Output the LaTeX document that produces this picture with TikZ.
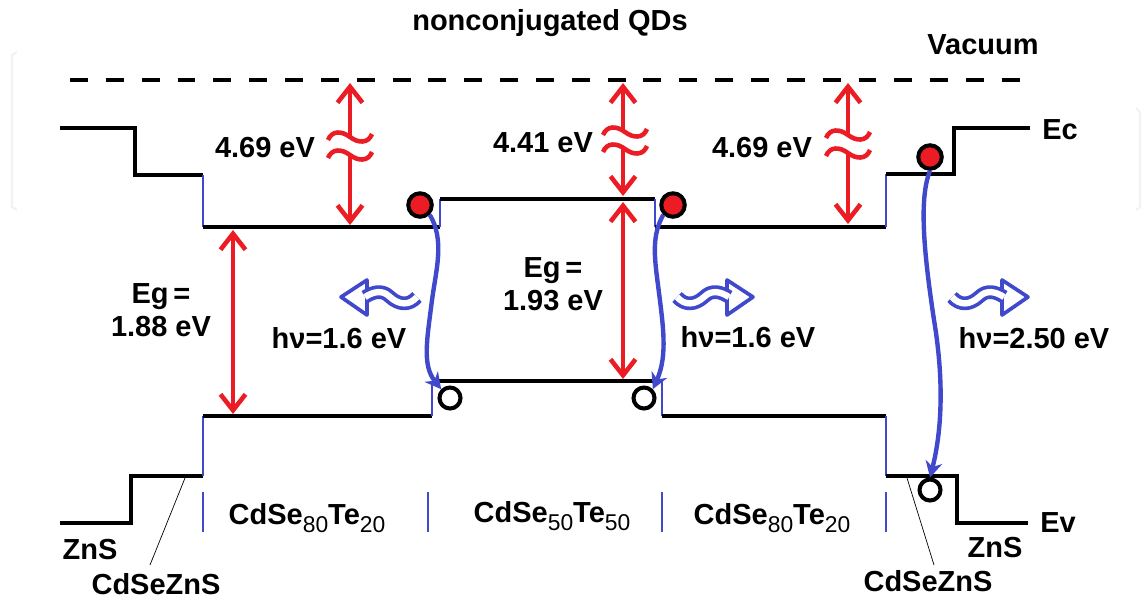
\documentclass[tikz,border=0pt]{standalone}
\usepackage{fontspec}
\setmainfont{Liberation Sans}
\usetikzlibrary{arrows.meta}

\definecolor{gapred}{RGB}{236,28,36}
\definecolor{bandblue}{RGB}{64,72,204}
\newcommand{\low}[1]{\raisebox{-0.5ex}{\mdseries\fontsize{13}{13}\selectfont #1}}

\tikzset{
  redtip/.tip={Straight Barb[length=3.2mm,width=5mm]},
  photon/.pic={
    \draw[ph, fill=white] (50,-17) -- (76,0) -- (50,18) -- cycle;
    \draw[ph, double=white, double distance=3.6pt] (0,0) .. controls (8,9) and (18,8) .. (27,0)
      .. controls (35,-8) and (44,-5) .. (52,0);
  },
  tilde/.pic={
    \draw[gap] (-22,3) .. controls (-18,-7) and (-8,-6) .. (0,0) .. controls (8,6) and (18,7) .. (22,-3);
  }
}

\begin{document}
\begin{tikzpicture}[x=0.02cm, y=-0.02cm,
  font=\fontsize{16.5}{19}\selectfont\bfseries,
  level/.style={line width=2.3pt},
  joint/.style={bandblue, line width=0.9pt},
  gap/.style={gapred, line width=2.6pt},
  ph/.style={bandblue, line width=2.1pt, line join=round},
  recomb/.style={bandblue, line width=2.5pt, -{Stealth[length=3.2mm,width=3.4mm]}},
  elec/.style={circle, draw=black, fill=gapred, line width=2.3pt, minimum size=0.47cm, inner sep=0pt},
  hole/.style={circle, draw=black, fill=white, line width=2.3pt, minimum size=0.42cm, inner sep=0pt}]
  \useasboundingbox (0,0) rectangle (1145,600);

  % faint frame left over from the original
  \draw[black!5, line width=1.2pt] (17,52) -- (12,55) -- (12,207) -- (17,210);
  \draw[black!5, line width=1.2pt] (1136,108) -- (1140,112) -- (1140,207) -- (1136,210);

  % vacuum level
  \draw[line width=2.7pt, dash pattern=on 10.2pt off 10.2pt] (70,80) -- (1035,80);
  \node (title) at (550,23) {nonconjugated QDs};
  \node (vac) at (983,45) {Vacuum};

  % conduction band
  \draw[level] (60,128) -- (135,128) -- (135,175) -- (203,175);
  \draw[joint] (203,175) -- (203,227);
  \draw[level] (203,227) -- (440,227);
  \draw[joint] (440,227) -- (440,199);
  \draw[level] (440,199) -- (655,199);
  \draw[joint] (655,199) -- (655,227);
  \draw[level] (655,227) -- (886,227);
  \draw[joint] (886,227) -- (886,174);
  \draw[level] (886,174) -- (954,174) -- (954,128) -- (1030,128);
  \node (ec) at (1060,130) {Ec};

  % valence band
  \draw[level] (60,523) -- (131,523) -- (131,476) -- (203,476);
  \draw[joint] (203,476) -- (203,416);
  \draw[level] (203,416) -- (432,416);
  \draw[joint] (432,416) -- (432,381);
  \draw[level] (432,381) -- (662,381);
  \draw[joint] (662,381) -- (662,416);
  \draw[level] (662,416) -- (886,416);
  \draw[joint] (886,416) -- (886,476);
  \draw[level] (886,476) -- (957,476) -- (957,523) -- (1028,523);
  \node (ev) at (1058,523) {Ev};

  % layer ticks and names
  \draw[joint] (203,492) -- (203,532);
  \draw[joint] (428,492) -- (428,532);
  \draw[joint] (662,492) -- (662,532);
  \draw[joint] (886,492) -- (886,532);
  \node (qd1) at (307,518) {CdSe\low{80}Te\low{20}};
  \node (qd2) at (552,516) {CdSe\low{50}Te\low{50}};
  \node (qd3) at (772,518) {CdSe\low{80}Te\low{20}};
  \node (zns1) at (90,550) {ZnS};
  \node (shell1) at (156,584) {CdSeZnS};
  \node (zns2) at (995,548) {ZnS};
  \node (shell2) at (928,581) {CdSeZnS};
  \draw[line width=0.4pt] (185,478) -- (150,565);
  \draw[line width=0.4pt] (907,478) -- (934,565);

  % electron affinities
  \coordinate (a1) at (350,83);  \coordinate (b1) at (350,225);
  \coordinate (a2) at (623,83);  \coordinate (b2) at (623,196);
  \coordinate (a3) at (848,83);  \coordinate (b3) at (848,224);
  \draw[gap, redtip-] (a1) -- (350,137);
  \draw[gap, -redtip] (350,155) -- (b1);
  \pic at (350,137) {tilde};
  \pic at (350,155) {tilde};
  \draw[gap, redtip-] (a2) -- (623,132);
  \draw[gap, -redtip] (623,149) -- (b2);
  \pic at (625,132) {tilde};
  \pic at (625,149) {tilde};
  \draw[gap, redtip-] (a3) -- (848,135);
  \draw[gap, -redtip] (848,153) -- (b3);
  \pic at (848,135) {tilde};
  \pic at (848,153) {tilde};
  \node (w1) at (265,148) {4.69 eV};
  \node (w2) at (543,143) {4.41 eV};
  \node (w3) at (762,148) {4.69 eV};

  % band gaps
  \coordinate (c1) at (233,230); \coordinate (d1) at (233,414);
  \coordinate (c2) at (623,202); \coordinate (d2) at (623,379);
  \draw[gap, redtip-redtip] (c1) -- (d1);
  \draw[gap, redtip-redtip] (c2) -- (d2);
  \node[align=center] (eg1) at (161,310) {Eg\,=\\1.88 eV};
  \node[align=center] (eg2) at (553,284) {Eg\,=\\1.93 eV};

  % carriers
  \node[elec] (e1) at (420,205) {};
  \node[elec] (e2) at (673,205) {};
  \node[elec] (e3) at (930,157) {};
  \node[hole] (h1) at (450,398) {};
  \node[hole] (h2) at (644,398) {};
  \node[hole] (h3) at (930,490) {};
  \draw[recomb] (e1.south east) .. controls (445,240) and (436,270) .. (432,300)
    .. controls (427,340) and (422,365) .. (h1.north west);
  \draw[recomb] (e2.south west) .. controls (652,235) and (654,255) .. (658,285)
    .. controls (663,325) and (668,355) .. (h2.north east);
  \draw[recomb] (e3.south) .. controls (918,200) and (925,260) .. (934,320)
    .. controls (944,380) and (942,430) .. (h3.north);

  % emission
  \pic[xscale=-1] at (417,297) {photon};
  \pic at (677,297) {photon};
  \pic at (952,297) {photon};
  \node (hv1) at (339,338) {hν=1.6 eV};
  \node (hv2) at (748,337) {hν=1.6 eV};
  \node (hv3) at (1034,338) {hν=2.50 eV};
\end{tikzpicture}
\end{document}
